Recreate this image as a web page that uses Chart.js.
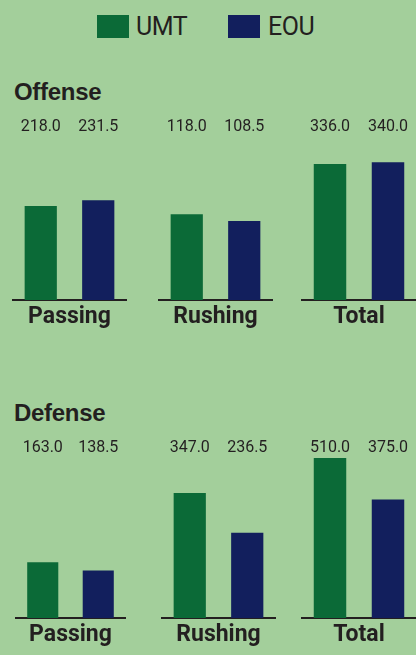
<!DOCTYPE html>
<html>
<head>
<meta charset="utf-8">
<script src="https://cdn.jsdelivr.net/npm/chart.js@4.4.0/dist/chart.umd.min.js"></script>
<style>
  body {
    margin: 0;
    width: 416px;
    height: 655px;
    overflow: hidden;
    position: relative;
    background: #a3cf9b;
    color: #231f20;
    font-family: "Liberation Sans", Arial, sans-serif;
  }
  .swatch { position: absolute; width: 32px; height: 23px; }
  .legend-text {
    position: absolute;
    font-family: Roboto, sans-serif;
    font-size: 25px;
    line-height: 26px;
    letter-spacing: -0.5px;
  }
  .title {
    position: absolute;
    left: 14px;
    font-weight: bold;
    font-size: 24px;
    line-height: 24px;
    letter-spacing: -0.3px;
  }
  canvas { position: absolute; }
</style>
</head>
<body>
  <div class="swatch" style="left:97px; top:15px; background:#0b6a37"></div>
  <div class="legend-text" style="left:136px; top:14px">UMT</div>
  <div class="swatch" style="left:228px; top:15px; background:#121f5d"></div>
  <div class="legend-text" style="left:268px; top:14px">EOU</div>

  <div class="title" style="top:80px">Offense</div>
  <div class="title" style="top:401px">Defense</div>

  <canvas id="offPassing" width="115" height="222" style="left:12px; top:112px"></canvas>
  <canvas id="offRushing" width="115" height="222" style="left:158px; top:112px"></canvas>
  <canvas id="offTotal" width="116" height="222" style="left:301px; top:112px"></canvas>
  <canvas id="defPassing" width="111" height="222" style="left:15px; top:430px"></canvas>
  <canvas id="defRushing" width="115" height="222" style="left:161px; top:430px"></canvas>
  <canvas id="defTotal" width="116" height="222" style="left:301px; top:430px"></canvas>

<script>
const teams = ['UMT', 'EOU'];
const categories = ['Passing', 'Rushing', 'Total'];
const offenseUMT = [218.0, 118.0, 336.0];
const offenseEOU = [231.5, 108.5, 340.0];
const defenseUMT = [163.0, 347.0, 510.0];
const defenseEOU = [138.5, 236.5, 375.0];

// each mini chart has its own scale in the original graphic
const offenseMax = [371, 220, 395];
const defenseMax = [467, 444, 506];

const GREEN = '#0b6a37';
const NAVY = '#121f5d';
const INK = '#231f20';
const FONT = 'Roboto, sans-serif';

// numbers above the bars, all on one line per section
const valueLabels = {
    id: 'valueLabels',
    afterDatasetsDraw(chart, args, opts) {
        const ctx = chart.ctx;
        ctx.save();
        ctx.font = '16px ' + FONT;
        ctx.fillStyle = INK;
        ctx.textAlign = 'center';
        ctx.textBaseline = 'middle';
        chart.data.datasets.forEach((ds, i) => {
            chart.getDatasetMeta(i).data.forEach((bar, j) => {
                ctx.fillText(ds.data[j].toFixed(1), bar.x, chart.chartArea.top - opts.offset);
            });
        });
        ctx.restore();
    }
};

function makeChart(id, category, umt, eou, yMax, labelOffset) {
    return new Chart(document.getElementById(id), {
        type: 'bar',
        data: {
            labels: [category],
            datasets: [
                { label: teams[0], data: [umt], backgroundColor: GREEN },
                { label: teams[1], data: [eou], backgroundColor: NAVY }
            ]
        },
        options: {
            responsive: false,
            animation: false,
            layout: { padding: { top: 28 } },
            datasets: { bar: { categoryPercentage: 1, barPercentage: 0.56 } },
            plugins: {
                legend: { display: false },
                tooltip: { enabled: false },
                valueLabels: { offset: labelOffset }
            },
            scales: {
                x: {
                    grid: { display: false, drawTicks: false },
                    border: { display: true, color: INK, width: 2 },
                    ticks: {
                        color: INK,
                        padding: 6,
                        font: { family: FONT, weight: 'bold', size: 23, lineHeight: 1 }
                    },
                    afterFit: s => { s.height = 34; }
                },
                y: { display: false, min: 0, max: yMax }
            }
        },
        plugins: [valueLabels]
    });
}

const offIds = ['offPassing', 'offRushing', 'offTotal'];
const defIds = ['defPassing', 'defRushing', 'defTotal'];
categories.forEach((cat, i) => {
    makeChart(offIds[i], cat, offenseUMT[i], offenseEOU[i], offenseMax[i], 13);
    makeChart(defIds[i], cat, defenseUMT[i], defenseEOU[i], defenseMax[i], 10);
});
</script>
</body>
</html>
